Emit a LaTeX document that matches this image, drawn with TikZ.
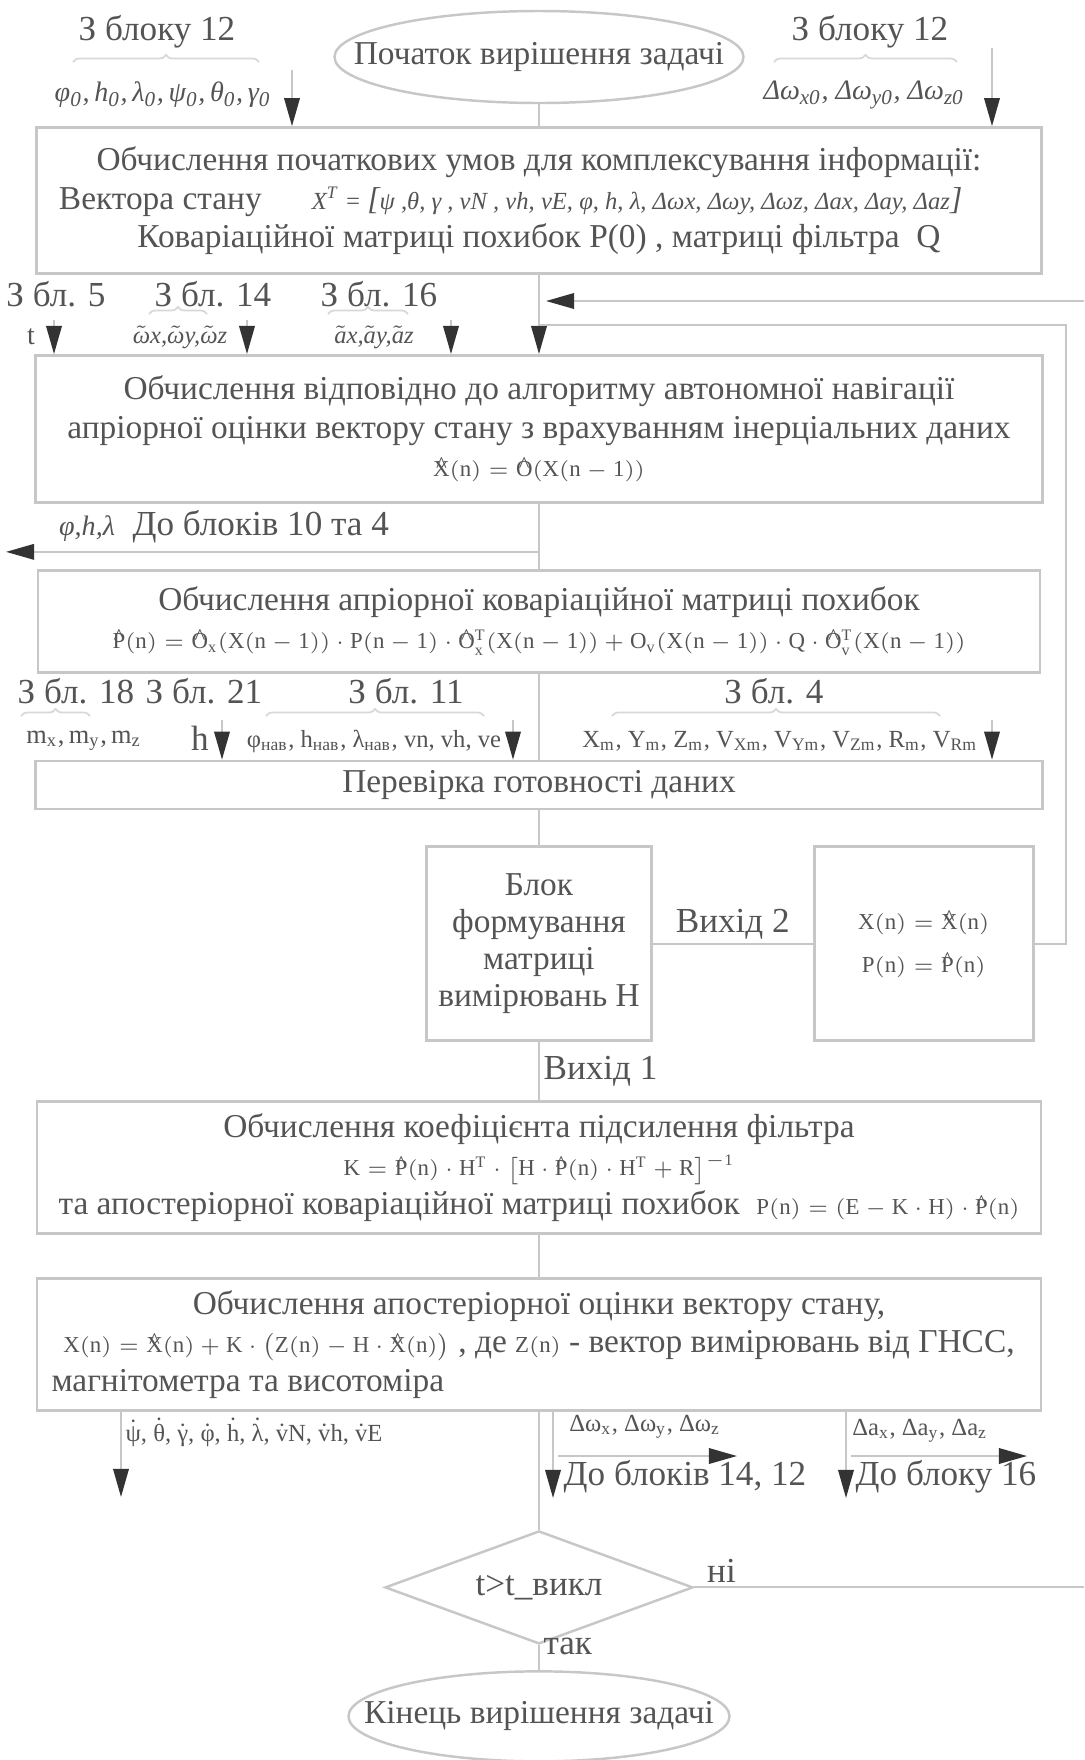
\documentclass[tikz,border=0pt]{standalone}
\usepackage{amsmath}
\usepackage{amssymb}
\usepackage{fontspec}
\setmainfont{Liberation Serif}
\setmathrm{Liberation Serif}
\usepackage{tikz}
\usetikzlibrary{shapes,arrows.meta,positioning,calc,decorations.pathreplacing}

\definecolor{linegray}{gray}{0.78}
\definecolor{txtgray}{gray}{0.33}
\definecolor{tipgray}{gray}{0.2}

\newcommand{\fsz}{\fontsize{6.5}{8}\selectfont}
\newcommand{\tld}[1]{\ensuremath{\tilde{\text{#1}}}}
\newcommand{\dtx}[1]{\ensuremath{\dot{\text{#1}}}}

\tikzstyle{line} = [draw=linegray, line width=0.6pt, -{Triangle[length=8pt,width=4.4pt,color=tipgray]}]
\tikzstyle{plain} = [draw=linegray, line width=0.6pt]
\tikzstyle{block} = [draw=linegray, line width=0.8pt, rectangle, text=txtgray, align=center, font=\fontsize{9.5}{11}\selectfont]
\tikzstyle{src} = [text=txtgray, font=\fontsize{10}{11}\selectfont, inner sep=1pt]
\tikzstyle{sig} = [text=txtgray, font=\fontsize{7}{8}\selectfont, inner sep=1pt]
\tikzstyle{bracket} = [draw=linegray!70, line width=0.5pt, decorate, decoration={brace, amplitude=2pt}]

\begin{document}
\begin{tikzpicture}[node distance = 1.0cm, auto]
    \useasboundingbox (0,0) rectangle (10.84,-17.60);

    % main column
    \node [draw=linegray, ellipse, line width=0.7pt, minimum width=4.09cm, minimum height=0.92cm, text=txtgray, font=\fontsize{9.5}{11}\selectfont] (start) at (5.39,-0.57) {\makebox[0pt]{Початок вирішення задачі}};
    \node [block, below=0.22cm of start, minimum width=10.05cm, minimum height=1.46cm] (init) {Обчислення початкових умов для комплексування інформації:\\
        \makebox[9.6cm][l]{Вектора стану \quad\ {\fontsize{7}{8}\selectfont\itshape X\textsuperscript{T} = {\fontsize{9}{9}\selectfont[}ψ ,θ, γ , vN , vh, vE, φ, h, λ, Δωx, Δωy, Δωz, Δax, Δay, Δaz{\fontsize{9}{9}\selectfont]}}}\\
        Коваріаційної матриці похибок P(0) , матриці фільтра \ Q};
    \node [block, below=0.79cm of init, minimum width=10.07cm, minimum height=1.47cm] (apri) {Обчислення відповідно до алгоритму автономної навігації\\
        апріорної оцінки вектору стану з врахуванням інерціальних даних\\
        {\fsz $\mathrm{\hat X(n)=\hat O(X(n-1))}$}};
    \node [block, below=0.65cm of apri, minimum width=10.02cm, minimum height=1.02cm] (cov) {Обчислення апріорної коваріаційної матриці похибок\\
        {\fsz $\mathrm{\hat P(n)=\hat O_x(X(n-1))\cdot P(n-1)\cdot\hat O_x^T(X(n-1))+\bar O_v(X(n-1))\cdot Q\cdot\hat O_v^T(X(n-1))}$}};
    \node [block, below=0.86cm of cov, minimum width=10.07cm, minimum height=0.48cm, inner ysep=2pt] (check) {Перевірка готовності даних};
    \node [block, below=0.35cm of check, minimum width=2.24cm, minimum height=1.94cm, font=\fontsize{9.5}{10.5}\selectfont] (hblk) {Блок\\формування\\матриці\\вимірювань H};
    \node [block, right=1.60cm of hblk, minimum width=2.19cm, minimum height=1.94cm, font=\fsz] (upd) {$\mathrm{X(n)=\hat X(n)}$\\[4pt]$\mathrm{P(n)=\hat P(n)}$};
    \node [block, below=0.58cm of hblk, minimum width=10.04cm, minimum height=1.31cm] (kgain) {Обчислення коефіцієнта підсилення фільтра\\
        {\fsz $\mathrm{K=\hat P(n)\cdot H^T\cdot\left[H\cdot\hat P(n)\cdot H^T+R\right]^{-1}}$}\\
        та апостеріорної коваріаційної матриці похибок \ {\fsz $\mathrm{P(n)=(E-K\cdot H)\cdot\hat P(n)}$}};
    \node [block, below=0.42cm of kgain, minimum width=10.04cm, minimum height=1.32cm] (est) {Обчислення апостеріорної оцінки вектору стану,\\
        {\fsz $\mathrm{X(n)=\hat X(n)+K\cdot\left(Z(n)-H\cdot\hat X(n)\right)}$} , де {\fsz $\mathrm{Z(n)}$} - вектор вимірювань від ГНСС,\\
        \makebox[9.75cm][l]{магнітометра та висотоміра}};
    \node [draw=linegray, diamond, line width=0.7pt, aspect=2.7, minimum width=3.08cm, minimum height=1.13cm, text=txtgray, below=1.18cm of est] (cond) {\makebox[0pt]{t>t\_викл}};
    \node [draw=linegray, ellipse, line width=0.7pt, minimum width=3.81cm, minimum height=0.90cm, text=txtgray, font=\fontsize{9.5}{11}\selectfont, below=0.25cm of cond] (stop) {\makebox[0pt]{Кінець вирішення задачі}};

    % inputs to the first block
    \node [src] (from12a) at (1.57,-0.32) {З блоку 12};
    \node [sig, font=\fontsize{8}{9}\selectfont\itshape] (ini0) at (1.63,-0.95) {φ\textsubscript{0},\,h\textsubscript{0},\,λ\textsubscript{0},\,ψ\textsubscript{0},\,θ\textsubscript{0},\,γ\textsubscript{0}};
    \draw [bracket] (0.73,-0.62) -- (2.59,-0.62);
    \coordinate (in12a) at (2.92,-0.70);
    \path [line] (in12a) -- (in12a |- init.north);
    \node [src] (from12b) at (8.70,-0.32) {З блоку 12};
    \node [sig, font=\fontsize{8}{9}\selectfont\itshape] (dw0) at (8.64,-0.95) {Δω\textsubscript{x0}, Δω\textsubscript{y0}, Δω\textsubscript{z0}};
    \draw [bracket] (7.74,-0.62) -- (9.57,-0.62);
    \coordinate (in12b) at (9.92,-0.48);
    \path [line] (in12b) -- (in12b |- init.north);
    \draw [plain] (start) -- (init);

    % inputs to the second block
    \node [src] (from5) at (0.56,-2.94) {З бл. 5};
    \node [src] (from14) at (2.13,-2.94) {З бл. 14};
    \node [src] (from16) at (3.79,-2.94) {З бл. 16};
    \node [sig, font=\fontsize{8}{9}\selectfont] (tin) at (0.31,-3.37) {t};
    \node [sig, font=\fontsize{7}{8}\selectfont\itshape] (gyro) at (1.80,-3.37) {\tld{ω}x,\tld{ω}y,\tld{ω}z};
    \node [sig, font=\fontsize{7}{8}\selectfont\itshape] (accel) at (3.74,-3.37) {\tld{a}x,\tld{a}y,\tld{a}z};
    \draw [bracket] (1.49,-3.14) -- (2.07,-3.14);
    \draw [bracket] (3.28,-3.14) -- (4.08,-3.14);
    \coordinate (in5) at (0.54,-3.20);
    \coordinate (in14) at (2.47,-3.20);
    \coordinate (in16) at (4.51,-3.20);
    \path [line] (in5) -- (in5 |- apri.north);
    \path [line] (in14) -- (in14 |- apri.north);
    \path [line] (in16) -- (in16 |- apri.north);
    \path [line] (init) -- (apri);
    \coordinate (fb) at (10.66,-3.25);
    \draw [plain] (upd.east) -| (fb) -- (fb -| init.south);
    \coordinate (loopin) at (10.84,-3.01);
    \coordinate (loopend) at (5.46,-3.01);
    \path [line] (loopin) -- (loopend);

    % output to blocks 10 and 4
    \draw [plain] (apri) -- (cov);
    \coordinate (br) at ($(apri.south)+(0,-0.48)$);
    \coordinate (outL) at (0.06,0);
    \path [line] (br) -- (br -| outL);
    \node [src] (to10) at (2.24,-5.27) {{\fontsize{8}{9}\selectfont\itshape φ,h,λ}\ \ До блоків 10 та 4};

    % inputs to the data check
    \node [src] (from18) at (0.76,-6.91) {З бл. 18};
    \node [src] (from21) at (2.04,-6.91) {З бл. 21};
    \node [src] (from11) at (4.06,-6.91) {З бл. 11};
    \node [src] (from4) at (7.74,-6.91) {З бл. 4};
    \node [sig, font=\fontsize{7.5}{8}\selectfont] (mag) at (0.84,-7.41) {m\textsubscript{x},\,m\textsubscript{y},\,m\textsubscript{z}};
    \node [src] (alt) at (2.00,-7.38) {h};
    \node [sig] (nav) at (3.74,-7.41) {φ\textsubscript{нав}, h\textsubscript{нав}, λ\textsubscript{нав}, vn, vh, ve};
    \node [sig] (gnss) at (7.80,-7.41) {X\textsubscript{m}, Y\textsubscript{m}, Z\textsubscript{m}, V\textsubscript{Xm}, V\textsubscript{Ym}, V\textsubscript{Zm}, R\textsubscript{m}, V\textsubscript{Rm}};
    \draw [bracket] (0.21,-7.16) -- (0.90,-7.16);
    \draw [bracket] (2.66,-7.16) -- (4.84,-7.16);
    \draw [bracket] (6.12,-7.16) -- (9.40,-7.16);
    \coordinate (in21) at (2.22,-7.20);
    \coordinate (in11) at (5.13,-7.20);
    \coordinate (in4) at (9.92,-7.20);
    \path [line] (in21) -- (in21 |- check.north);
    \path [line] (in11) -- (in11 |- check.north);
    \path [line] (in4) -- (in4 |- check.north);
    \draw [plain] (cov) -- (check);

    % measurement matrix and its two exits
    \draw [plain] (check) -- (hblk);
    \draw [plain] (hblk) -- node[src, above] {Вихід 2} (upd);
    \draw [plain] (hblk) -- node[src, right] {Вихід 1} (kgain);
    \draw [plain] (kgain) -- (est);

    % outputs of the estimate
    \coordinate (o1) at (1.21,-14.97);
    \path [line] (o1 |- est.south) -- (o1);
    \node [sig] (rates) at (2.54,-14.32) {\dtx{ψ}, \dtx{θ}, \dtx{γ}, \dtx{φ}, \dtx{h}, \dtx{λ}, \dtx{v}N, \dtx{v}h, \dtx{v}E};
    \coordinate (o2) at (5.53,-14.98);
    \path [line] (o2 |- est.south) -- (o2);
    \coordinate (o2a) at (5.58,-14.56);
    \coordinate (o2b) at (7.37,-14.56);
    \path [line] (o2a) -- (o2b);
    \node [sig] (dw) at (6.45,-14.27) {Δω\textsubscript{x}, Δω\textsubscript{y}, Δω\textsubscript{z}};
    \node [src] (to14) at (6.85,-14.77) {До блоків 14, 12};
    \coordinate (o3) at (8.46,-14.98);
    \path [line] (o3 |- est.south) -- (o3);
    \coordinate (o3a) at (8.51,-14.56);
    \coordinate (o3b) at (10.27,-14.56);
    \path [line] (o3a) -- (o3b);
    \node [sig] (da) at (9.20,-14.31) {Δa\textsubscript{x}, Δa\textsubscript{y}, Δa\textsubscript{z}};
    \node [src] (to16) at (9.46,-14.77) {До блоку 16};

    % end condition
    \draw [plain] (est) -- (cond);
    \coordinate (loopout) at (10.84,0);
    \draw [plain] (cond.east) -- node[src, pos=0.07, above] {ні} (cond.east -| loopout);
    \draw [plain] (cond) -- node[src, right, pos=0.05] {так} (stop);
\end{tikzpicture}
\end{document}
